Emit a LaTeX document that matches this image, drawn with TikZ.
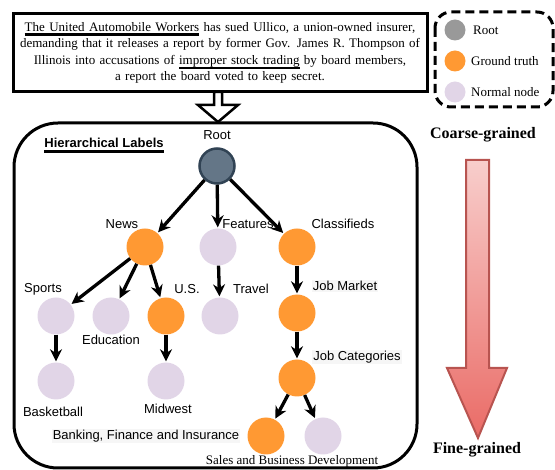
\documentclass[tikz,border=0pt]{standalone}
\usepackage{fontspec}
\setmainfont{Liberation Serif}
\setsansfont{Liberation Sans}
\usetikzlibrary{arrows.meta,shapes.geometric}
\definecolor{orangeN}{RGB}{255,153,51}
\definecolor{lav}{RGB}{225,213,231}
\definecolor{rootfill}{RGB}{100,118,135}
\definecolor{rootdraw}{RGB}{49,67,84}
\definecolor{legroot}{RGB}{153,153,153}
\definecolor{redtop}{RGB}{248,206,204}
\definecolor{redbot}{RGB}{234,107,102}
\definecolor{redline}{RGB}{184,84,80}
\definecolor{lblbg}{RGB}{246,246,246}
\newcommand\myul[3]{\setbox0\hbox{#3}\rlap{\rule[#1]{\wd0}{#2}}\box0\relax}
\begin{document}
\begin{tikzpicture}[x=1pt,y=-1pt,
  gt/.style={circle,fill=orangeN,minimum size=37pt,inner sep=0pt},
  nn/.style={circle,fill=lav,minimum size=37pt,inner sep=0pt},
  lbl/.style={font=\fontsize{13}{15}\selectfont\sffamily,inner sep=1pt},
  lblbox/.style={lbl,fill=lblbg},
  legtxt/.style={font=\fontsize{13}{15}\selectfont,anchor=west,inner sep=0pt},
  edge/.style={line width=3.3pt,-{Stealth[length=12pt,width=12pt]},shorten >=1pt}]
\useasboundingbox (0,0) rectangle (555,470);
% text box
\node[draw,line width=3pt,text width=408pt,inner xsep=3pt,minimum height=78pt,align=center,
  font=\fontsize{13}{16.5}\selectfont] (txt) at (220,53)
  {\myul{-4.5pt}{2.8pt}{The United Automobile Workers} has sued Ullico, a union-owned insurer,\\
   demanding that it releases a report by former Gov. James R. Thompson of\\
   Illinois into accusations of \myul{-5pt}{2.8pt}{improper stock trading} by board members,\\
   a report the board voted to keep secret.};
% hollow arrow
\draw[line width=2.5pt,fill=white,line join=miter] (214,92) -- (222,92) -- (222,105) -- (238,105) -- (218,122) -- (198,105) -- (214,105) -- cycle;
% big rounded box
\draw[line width=3pt,rounded corners=44pt] (14,123) rectangle (417,468);
\node[font=\fontsize{13}{15}\selectfont\sffamily\bfseries,inner sep=0pt] (hl) at (104,146) {\myul{-5.5pt}{3pt}{Hierarchical Labels}};
% nodes
\node[circle,fill=rootfill,draw=rootdraw,line width=2.5pt,minimum size=35pt,inner sep=0pt] (root) at (217,166) {};
\node[gt] (news) at (145,247) {};
\node[nn] (features) at (218,247) {};
\node[gt] (classifieds) at (297,247) {};
\node[nn] (sports) at (56,316) {};
\node[nn] (education) at (111,316) {};
\node[gt] (us) at (166,316) {};
\node[nn] (travel) at (220,316) {};
\node[gt] (jobmarket) at (297,313) {};
\node[nn] (basketball) at (56,381) {};
\node[nn] (midwest) at (166,381) {};
\node[gt] (jobcat) at (297,378) {};
\node[gt] (banking) at (266,436) {};
\node[nn] (sales) at (323,436) {};
% edges
\draw[edge] (root) -- (news);
\draw[edge] (root) -- (features);
\draw[edge] (root) -- (classifieds);
\draw[edge] (news) -- (sports);
\draw[edge] (news) -- (education);
\draw[edge] (news) -- (us);
\draw[edge] (features) -- (travel);
\draw[edge] (classifieds) -- (jobmarket);
\draw[edge] (sports) -- (basketball);
\draw[edge] (us) -- (midwest);
\draw[edge] (jobmarket) -- (jobcat);
\draw[edge] (jobcat) -- (banking);
\draw[edge] (jobcat) -- (sales);
% labels
\node[lbl] (lroot) at (217,135) {Root};
\node[lbl] (lnews) at (122,224) {News};
\node[lbl] (lfeat) at (248,224) {Features};
\node[lbl] (lclass) at (343,224) {Classifieds};
\node[lbl] (lsports) at (43,289) {Sports};
\node[lbl] (ledu) at (111,340) {Education};
\node[lbl] (lus) at (187,289) {U.S.};
\node[lbl] (ltravel) at (251,289) {Travel};
\node[lblbox] (ljm) at (345,286) {Job Market};
\node[lbl] (lbask) at (53,412) {Basketball};
\node[lbl] (lmid) at (168,409) {Midwest};
\node[lblbox] (ljc) at (357,357) {Job Categories};
\node[lblbox] (lbank) at (146,436) {Banking, Finance and Insurance};
\node[font=\fontsize{13}{15}\selectfont,inner sep=0pt] (lsales) at (292,461) {Sales and Business Development};
% legend
\draw[line width=3pt,dash pattern=on 9pt off 5pt,rounded corners=16pt] (435,12) rectangle (553,107);
\node[circle,fill=legroot,minimum size=21pt,inner sep=0pt] (legr) at (455,30) {};
\node[circle,fill=orangeN,minimum size=21pt,inner sep=0pt] (legg) at (455,61) {};
\node[circle,fill=lav,minimum size=21pt,inner sep=0pt] (legn) at (455,92) {};
\node[legtxt] (tlegr) at (473,30) {Root};
\node[legtxt] (tlegg) at (471,61) {Ground truth};
\node[legtxt] (tlegn) at (471,92) {Normal node};
% coarse/fine arrow
\node[font=\fontsize{16}{18}\selectfont\bfseries,inner sep=0pt] (coarse) at (483,135) {Coarse-grained};
\draw[draw=redline,line width=2pt,top color=redtop,bottom color=redbot,line join=miter]
  (466,160) -- (489,160) -- (489,368) -- (507,368) -- (478,438) -- (447,368) -- (466,368) -- cycle;
\node[font=\fontsize{16}{18}\selectfont\bfseries,inner sep=0pt] (fine) at (477,450) {Fine-grained};
\end{tikzpicture}
\end{document}
